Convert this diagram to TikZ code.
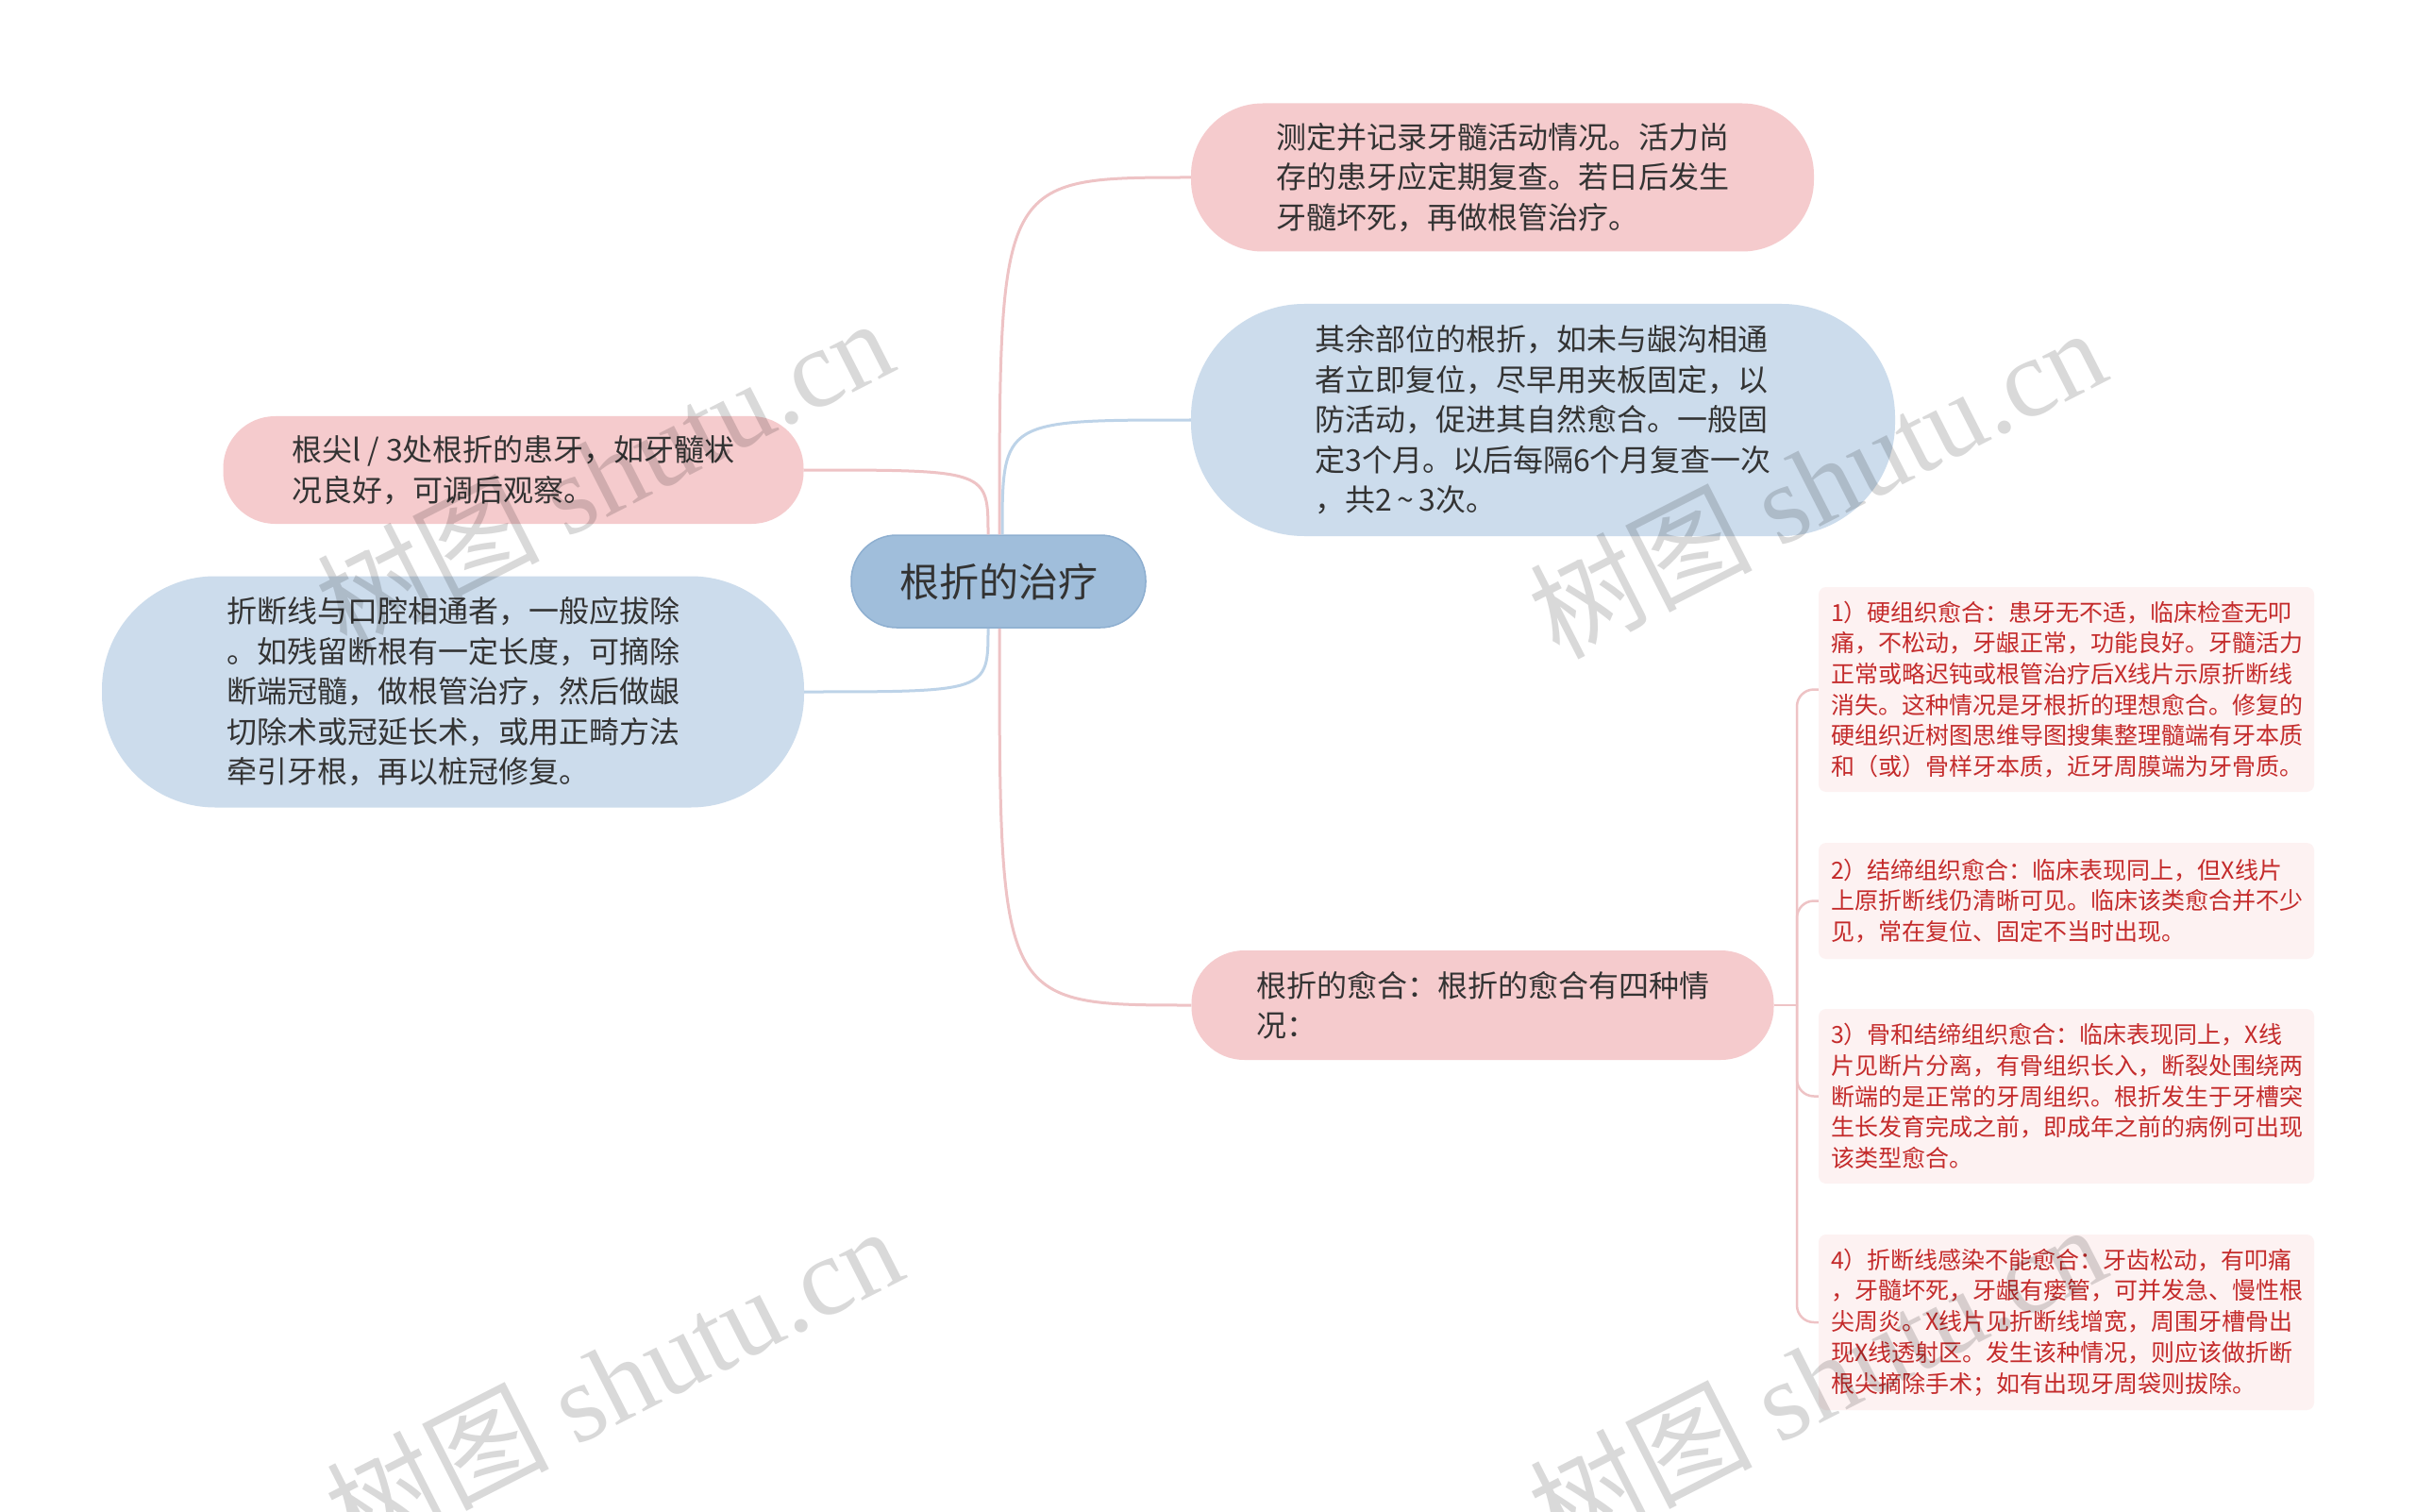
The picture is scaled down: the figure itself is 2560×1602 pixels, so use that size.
\documentclass[tikz,border=0pt]{standalone}
\usepackage{fontspec}
\setmainfont{Noto Sans CJK SC}
\newfontfamily\wmlatin{Liberation Serif}
\usetikzlibrary{calc}
\definecolor{pinkfill}{HTML}{F5CBCD}
\definecolor{bluefill}{HTML}{CCDCEC}
\definecolor{rootfill}{HTML}{A0BEDB}
\definecolor{rootedge}{HTML}{8EAFD0}
\definecolor{pinkline}{HTML}{EEC3C5}
\definecolor{blueline}{HTML}{BDD3E8}
\definecolor{leaffill}{HTML}{FDF2F2}
\definecolor{leaftext}{HTML}{C42B2B}
\definecolor{maintext}{HTML}{333333}
\begin{document}
\begin{tikzpicture}[x=1pt,y=-1pt,
  topic/.style={align=left, text=maintext, font=\fontsize{32pt}{42.5pt}\selectfont, inner sep=0pt},
  pinktopic/.style={topic, fill=pinkfill},
  bluetopic/.style={topic, fill=bluefill},
  leafbox/.style={fill=leaffill, text=leaftext, align=left, font=\fontsize{25pt}{32.7pt}\selectfont,
    rounded corners=8pt, minimum width=525pt, inner xsep=13pt, inner ysep=0pt, text width=499pt},
  pinkconn/.style={draw=pinkline, line width=3pt},
  blueconn/.style={draw=blueline, line width=3pt},
  leafconn/.style={draw=pinkline, line width=2.5pt, rounded corners=18pt},
  wmark/.style={rotate=27, text=black, opacity=0.15, font=\fontsize{118pt}{130pt}\selectfont}
]
\useasboundingbox (0,0) rectangle (2560,1602);
\fill[white] (0,0) rectangle (2560,1602);

% central topic
\node[fill=rootfill, draw=rootedge, line width=1.5pt, rounded corners=48pt,
  minimum width=312pt, minimum height=98pt, text=maintext,
  font=\fontsize{42pt}{50pt}\selectfont] (root) at (1058,616) {根折的治疗};

% main topics
\node[pinktopic, minimum width=660pt, minimum height=157pt, rounded corners=76pt] (n1) at (1592,188)
  {测定并记录牙髓活动情况。活力尚\\存的患牙应定期复查。若日后发生\\牙髓坏死，再做根管治疗。};
\node[bluetopic, minimum width=746pt, minimum height=246pt, rounded corners=120pt] (n2) at (1635,445)
  {其余部位的根折，如未与龈沟相通\\者立即复位，尽早用夹板固定，以\\防活动，促进其自然愈合。一般固\\定3个月。以后每隔6个月复查一次\\，共2\,\textasciitilde\,3次。};
\node[pinktopic, minimum width=617pt, minimum height=116pt, rounded corners=56pt] (n3) at (1571,1065)
  {根折的愈合：根折的愈合有四种情\\况：};
\node[pinktopic, minimum width=615pt, minimum height=114pt, rounded corners=55pt] (l1) at (544,498)
  {根尖l / 3处根折的患牙，如牙髓状\\况良好，可调后观察。};
\node[bluetopic, minimum width=744pt, minimum height=245pt, rounded corners=120pt] (l2) at (480,733)
  {折断线与口腔相通者，一般应拔除\\。如残留断根有一定长度，可摘除\\断端冠髓，做根管治疗，然后做龈\\切除术或冠延长术，或用正畸方法\\牵引牙根，再以桩冠修复。};

% leaves
\node[leafbox, minimum height=217pt] (r1) at (2189.5,730.5)
  {1）硬组织愈合：患牙无不适，临床检查无叩\\痛，不松动，牙龈正常，功能良好。牙髓活力\\正常或略迟钝或根管治疗后X线片示原折断线\\消失。这种情况是牙根折的理想愈合。修复的\\硬组织近树图思维导图搜集整理髓端有牙本质\\和（或）骨样牙本质，近牙周膜端为牙骨质。};
\node[leafbox, minimum height=123pt] (r2) at (2189.5,954.5)
  {2）结缔组织愈合：临床表现同上，但X线片\\上原折断线仍清晰可见。临床该类愈合并不少\\见，常在复位、固定不当时出现。};
\node[leafbox, minimum height=185pt] (r3) at (2189.5,1161.5)
  {3）骨和结缔组织愈合：临床表现同上，X线\\片见断片分离，有骨组织长入，断裂处围绕两\\断端的是正常的牙周组织。根折发生于牙槽突\\生长发育完成之前，即成年之前的病例可出现\\该类型愈合。};
\node[leafbox, minimum height=186pt] (r4) at (2189.5,1401)
  {4）折断线感染不能愈合：牙齿松动，有叩痛\\，牙髓坏死，牙龈有瘘管，可并发急、慢性根\\尖周炎。X线片见折断线增宽，周围牙槽骨出\\现X线透射区。发生该种情况，则应该做折断\\根尖摘除手术；如有出现牙周袋则拔除。};

% connectors from the central topic
\coordinate (sL1) at ($(root.north)+(-11,0)$);
\coordinate (sN1) at ($(root.north)+(1,0)$);
\coordinate (sN2) at ($(root.north)+(4,0)$);
\coordinate (sL2) at ($(root.south)+(-11,0)$);
\coordinate (sN3) at ($(root.south)+(1,0)$);
\draw[pinkconn] (sL1) .. controls (sL1 |- l1.east) .. (l1.east);
\draw[blueconn] (sL2) .. controls (sL2 |- l2.east) .. (l2.east);
\draw[pinkconn] (sN1) .. controls (sN1 |- n1.west) .. (n1.west);
\draw[blueconn] (sN2) .. controls (sN2 |- n2.west) .. (n2.west);
\draw[pinkconn] (sN3) .. controls (sN3 |- n3.west) .. (n3.west);

% bracket to leaves
\coordinate (br) at (1904,1065);
\draw[leafconn] (n3.east) -- (br);
\draw[leafconn] (br) |- (r1.west);
\draw[leafconn] (br) |- (r2.west);
\draw[leafconn] (br) |- (r3.west);
\draw[leafconn] (br) |- (r4.west);

% watermarks
\begin{scope}
\clip (0,0) rectangle (2560,1602);
\node[wmark] (w1) at (640,500) {树图 {\wmlatin shutu.cn}};
\node[wmark] (w2) at (1925,510) {树图 {\wmlatin shutu.cn}};
\node[wmark] (w3) at (650,1462) {树图 {\wmlatin shutu.cn}};
\node[wmark] (w4) at (1925,1460) {树图 {\wmlatin shutu.cn}};
\end{scope}
\end{tikzpicture}
\end{document}
